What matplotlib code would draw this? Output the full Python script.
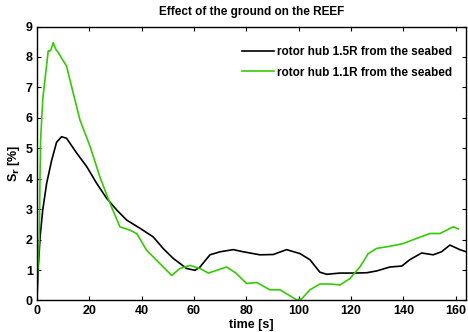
import numpy as np
import matplotlib
matplotlib.use('Agg')
import matplotlib.pyplot as plt

plt.rcParams['font.family'] = ['Liberation Sans', 'DejaVu Sans']
plt.rcParams['font.weight'] = 'bold'

# rotor hub 1.5R from the seabed (black)
t_15 = [0, 0.5, 1.2, 2.2, 3.7, 5.6, 7.5, 9.4, 11.3, 15.2, 19, 22.8, 26.6, 30.5,
        34.3, 39.4, 44.4, 48.3, 52.1, 57.2, 60.4, 62.3, 66.1, 70, 75, 78.8,
        85.2, 90.3, 95.4, 100.5, 104.3, 108.1, 110.7, 115.8, 120.9, 126,
        129.8, 134.9, 139.4, 142.5, 147, 151.4, 154.6, 157.8, 161.6, 164]
s_15 = [0, 1.1, 2.1, 2.97, 3.85, 4.6, 5.2, 5.38, 5.33, 4.84, 4.4, 3.85, 3.36, 2.97,
        2.64, 2.37, 2.09, 1.7, 1.38, 1.05, 0.99, 1.1, 1.5, 1.6, 1.67, 1.6,
        1.5, 1.51, 1.67, 1.54, 1.34, 0.93, 0.86, 0.9, 0.9, 0.91,
        0.97, 1.1, 1.13, 1.34, 1.56, 1.5, 1.6, 1.82, 1.67, 1.6]

# rotor hub 1.1R from the seabed (green)
t_11 = [0, 0.5, 0.9, 1.15, 1.4, 2.2, 3.06, 4.3, 5.2, 6.2, 7.2, 8.1, 9.5, 11.3, 13.9,
        16.4, 20.3, 24, 27.9, 31.7, 35.5, 38.1, 41.9, 45.7, 51.5, 54.6,
        58.5, 62.3, 65.5, 68.7, 72.5, 76, 80.1, 84, 89, 92.9, 99.2, 101.1,
        104.3, 108.1, 112, 115.8, 119.6, 123.4, 126.6, 129.8, 134.9, 140,
        145.1, 150.2, 154, 159.1, 161]
s_11 = [0.44, 1.3, 2.1, 4.0, 5.3, 6.6, 7.26, 8.2, 8.2, 8.47, 8.25, 8.15, 7.95, 7.7, 6.8,
        5.94, 5.06, 4.07, 3.19, 2.42, 2.31, 2.2, 1.65, 1.32, 0.82, 1.05,
        1.15, 1.05, 0.9, 0.99, 1.1, 0.9, 0.56, 0.59, 0.35, 0.35, 0.02, 0.05,
        0.35, 0.54, 0.54, 0.51, 0.72, 1.1, 1.54, 1.71, 1.78, 1.87,
        2.04, 2.2, 2.2, 2.42, 2.35]

fig = plt.figure(figsize=(4.68, 3.32), dpi=100)
ax = fig.add_axes([0.079, 0.095, 0.917, 0.825])

ax.plot(t_15, s_15, color='black', lw=1.2, label='rotor hub 1.5R from the seabed')
ax.plot(t_11, s_11, color='#33cc00', lw=1.2, label='rotor hub 1.1R from the seabed')

ax.set_xlim(0, 164)
ax.set_ylim(0, 9)
ax.set_xticks(np.arange(0, 161, 20))
ax.set_yticks(np.arange(0, 10, 1))
ax.tick_params(direction='in', top=True, right=True, labelsize=9, length=3, pad=3)
for sp in ax.spines.values():
    sp.set_linewidth(1.0)

ax.set_title('Effect of the ground on the REEF', fontsize=8.5, fontweight='bold', pad=8)
ax.set_xlabel('time [s]', fontsize=9, fontweight='bold', labelpad=2)
ax.set_ylabel('S$_\\mathbf{r}$ [%]', fontsize=9, fontweight='bold', labelpad=3)

ax.legend(loc='upper right', bbox_to_anchor=(0.967, 0.93), frameon=False,
          borderaxespad=0, borderpad=0,
          handlelength=2.7, handletextpad=0.25, labelspacing=0.75,
          prop={'weight': 'bold', 'size': 8.5})

fig.savefig('out.png', dpi=100)
